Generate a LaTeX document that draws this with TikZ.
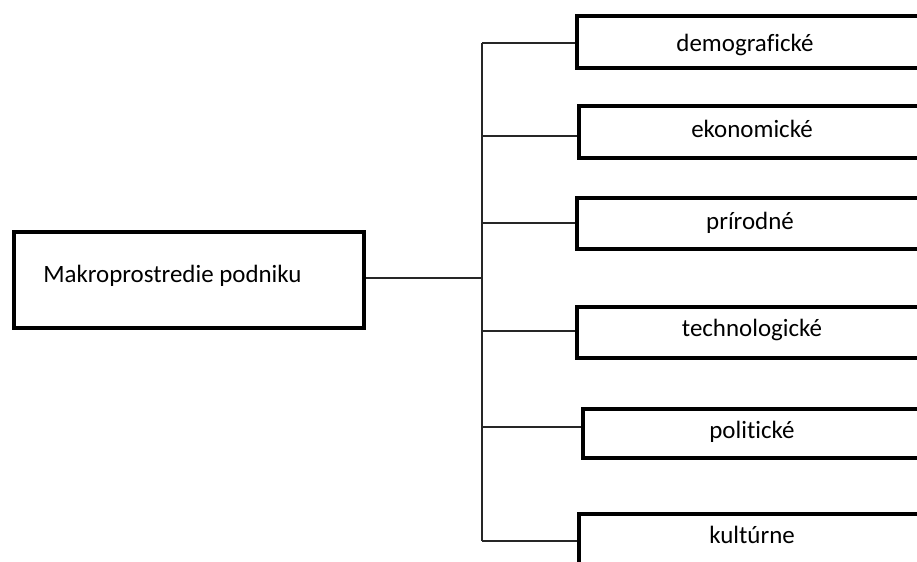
\documentclass[tikz,border=0pt]{standalone}
\usepackage{fontspec}
\setmainfont{Carlito}[Ligatures={NoCommon,NoDiscretionary}]
\begin{document}
\begin{tikzpicture}[x=0.75pt,y=-0.75pt,
  box/.style={draw=black,line width=3pt,inner sep=0pt,rectangle,fill=white},
  lbl/.style={anchor=base,inner sep=0pt,font=\fontsize{18.7}{22}\selectfont},
  conn/.style={draw=black!85,line width=1pt}]
\useasboundingbox (0,0) rectangle (917,561);
\clip (0,0) rectangle (917,561);
% left box
\node[box,minimum width=350*0.75pt,minimum height=96*0.75pt] (main) at (189,280) {};
\node[lbl,anchor=base west] (maintxt) at (43,282) {Makroprostredie podniku};
% right boxes
\node[box,minimum width=380*0.75pt,minimum height=52*0.75pt] (b1) at (767,41.5) {};
\node[box,minimum width=380*0.75pt,minimum height=52*0.75pt] (b2) at (769,131.5) {};
\node[box,minimum width=380*0.75pt,minimum height=51*0.75pt] (b3) at (767,223.5) {};
\node[box,minimum width=380*0.75pt,minimum height=51*0.75pt] (b4) at (767,332.5) {};
\node[box,minimum width=380*0.75pt,minimum height=49*0.75pt] (b5) at (773,433) {};
\node[box,minimum width=380*0.75pt,minimum height=52*0.75pt] (b6) at (769,540) {};
\node[lbl] (t1) at (745,51) {demografické};
\node[lbl] (t2) at (752,137) {ekonomické};
\node[lbl] (t3) at (750,229) {prírodné};
\node[lbl] (t4) at (752,336) {technologické};
\node[lbl] (t5) at (752,438) {politické};
\node[lbl] (t6) at (752,543) {kultúrne};
% trunk
\coordinate (top) at (482,43);
\coordinate (bot) at (482,541);
\coordinate (mid) at (482,278);
\draw[conn] (top) -- (bot);
\draw[conn] (main.east |- mid) -- (mid);
\draw[conn] (top) -- (b1.west |- top);
\draw[conn] (482,136) -- (b2.west |- 0,136);
\draw[conn] (482,223) -- (b3.west |- 0,223);
\draw[conn] (482,331) -- (b4.west |- 0,331);
\draw[conn] (482,427) -- (b5.west |- 0,427);
\draw[conn] (bot) -- (b6.west |- bot);
\end{tikzpicture}
\end{document}
